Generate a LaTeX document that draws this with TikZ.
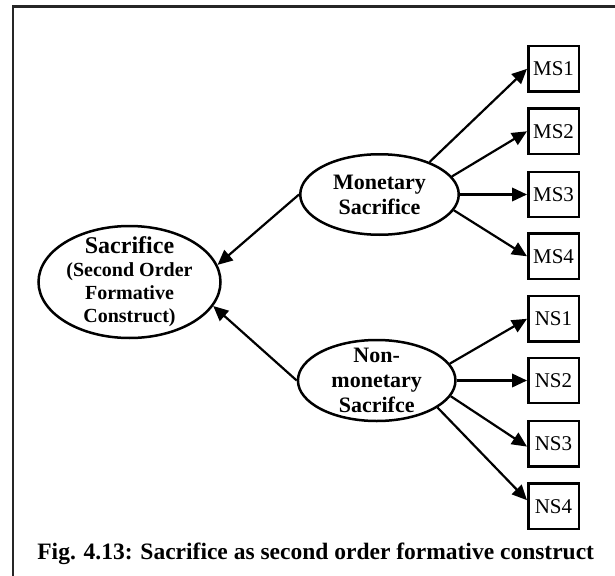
\documentclass[tikz,border=0pt]{standalone}
\usepackage{fontspec}
\setmainfont{Liberation Serif}
\usetikzlibrary{shapes.geometric,arrows.meta}
\begin{document}
\begin{tikzpicture}[x=1pt,y=-1pt,
  construct/.style={ellipse, draw, line width=2.5pt, inner sep=0pt},
  indicator/.style={rectangle, draw, line width=2.5pt, inner sep=0pt,
    minimum width=50.5pt, minimum height=45.2pt,
    font=\fontsize{21}{24}\selectfont},
  oval text/.style={align=center, inner sep=0pt,
    font=\bfseries\fontsize{22}{25}\selectfont},
  link/.style={line width=2.2pt, -{Triangle[length=15pt,width=13.5pt]}},
]
% page area and clipping for the open frame
\path[use as bounding box] (0,0) rectangle (615,575);
\clip (0,0) rectangle (615,575);
\draw[line width=2.2pt, black!85] (13.3,620) -- (13.3,6.5) -- (660,6.5);

% second order construct
\node[construct, minimum width=182pt, minimum height=112pt,
  label={[oval text, font=\bfseries\fontsize{20}{23}\selectfont]center:{\fontsize{24}{23}\selectfont Sacrifice}\\(Second Order\\Formative\\Construct)}]
  (sac) at (129.5,282) {};

% first order constructs
\node[construct, minimum width=158.5pt, minimum height=80.5pt,
  label={[oval text]center:Monetary\\Sacrifice}]
  (mon) at (379.5,194.5) {};
\node[construct, minimum width=157.5pt, minimum height=81pt,
  label={[oval text]center:Non-\\monetary\\Sacrifce}]
  (non) at (376.7,380.5) {};

% indicators
\node[indicator] (ms1) at (553.5,68.8)  {MS1};
\node[indicator] (ms2) at (553.5,131.3) {MS2};
\node[indicator] (ms3) at (553.5,194.5) {MS3};
\node[indicator] (ms4) at (553.5,256.3) {MS4};
\node[indicator] (ns1) at (553.5,318.8) {NS1};
\node[indicator] (ns2) at (553.5,380.5) {NS2};
\node[indicator] (ns3) at (553.5,443.8) {NS3};
\node[indicator] (ns4) at (553.5,506.3) {NS4};

% formative paths
\draw[link] (mon.180) -- (sac.11);
\draw[link] (non.180) -- (sac.-16);

% indicator paths
\draw[link] (mon.33)  -- (ms1.west);
\draw[link] (mon.14)  -- (ms2.west);
\draw[link] (mon.east) -- (ms3.west);
\draw[link] (mon.-12) -- (ms4.west);
\draw[link] (non.13)  -- (ns1.west);
\draw[link] (non.east) -- (ns2.west);
\draw[link] (non.-12) -- (ns3.186);
\draw[link] (non.-24) -- (ns4.167);

% caption
\node[font=\bfseries\fontsize{23.5}{28}\selectfont, anchor=base, inner sep=0pt]
  (cap) at (315.7,559) {Fig. 4.13: Sacrifice as second order formative construct};
\end{tikzpicture}
\end{document}
